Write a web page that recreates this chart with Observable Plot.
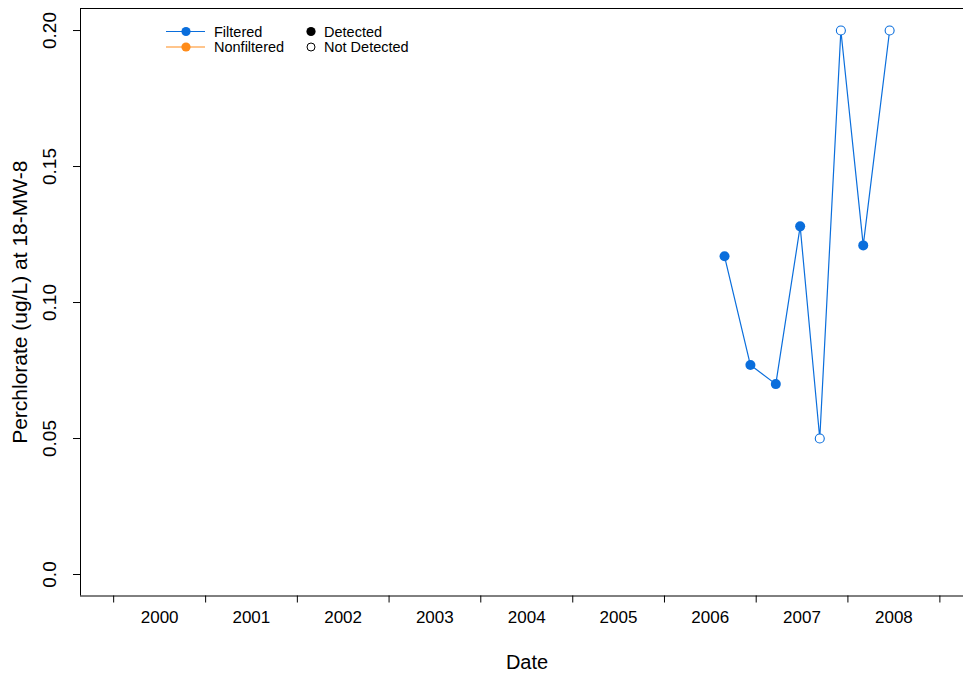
<!DOCTYPE html>
<html>
<head>
<meta charset="utf-8">
<script src="https://cdn.jsdelivr.net/npm/d3@7"></script>
<script src="https://cdn.jsdelivr.net/npm/@observablehq/plot@0.6"></script>
<style>
  html, body { margin: 0; padding: 0; background: #fff; overflow: hidden; }
  #wrap { position: relative; width: 963px; height: 677px; }
  #legend { position: absolute; left: 0; top: 0; pointer-events: none; }
</style>
</head>
<body>
<div id="wrap"><div id="chart"></div><svg id="legend" width="963" height="677"></svg></div>
<script>
// ---- data ----
const sampleDates = ["2006-08-28","2006-12-09","2007-03-20","2007-06-25","2007-09-11","2007-12-04","2008-03-02","2008-06-15"];
const perchlorate = [0.117, 0.077, 0.070, 0.128, 0.050, 0.200, 0.121, 0.200];
const detected    = [true, true, true, true, false, false, true, false];
const fraction    = ["Filtered","Filtered","Filtered","Filtered","Filtered","Filtered","Filtered","Filtered"];

const years = [2000, 2001, 2002, 2003, 2004, 2005, 2006, 2007, 2008];
const yTicks = [0, 0.05, 0.10, 0.15, 0.20];
const yTickLabels = ["0.0", "0.05", "0.10", "0.15", "0.20"];

const legendSeries = ["Filtered", "Nonfiltered"];
const legendStatus = ["Detected", "Not Detected"];

const yTitle = "Perchlorate (ug/L) at 18-MW-8";
const xTitle = "Date";

// ---- styling ----
const BLUE = "#0a6edc";
const ORANGE = "#ff8c1a";
const seriesColors = [BLUE, ORANGE];
const FONT = "'Liberation Sans', Arial, Helvetica, sans-serif";

const data = sampleDates.map((d, i) => ({
  date: new Date(d + "T00:00:00Z"),
  value: perchlorate[i],
  detected: detected[i],
  fraction: fraction[i]
}));

const xDomain = [new Date(Date.UTC(1999, 7, 22)), new Date(Date.UTC(2009, 3, 5))];
const yDomain = [-0.0079, 0.2081];

const yearStarts = years.concat([years[years.length - 1] + 1]).map(y => new Date(Date.UTC(y, 0, 1)));
const yearMids = years.map(y => new Date(Date.UTC(y, 6, 2)));

const filt = data.filter(d => d.fraction === "Filtered");

const chart = Plot.plot({
  width: 963,
  height: 677,
  marginLeft: 80,
  marginRight: 0,
  marginTop: 8,
  marginBottom: 81.5,
  style: { fontFamily: FONT, fontSize: "17px", background: "#fff", color: "#000" },
  x: { type: "utc", domain: xDomain },
  y: { domain: yDomain },
  marks: [
    // box (left, top, bottom)
    Plot.ruleY([yDomain[0], yDomain[1]], { stroke: "#000", strokeWidth: 1 }),
    Plot.ruleX([xDomain[0]], { stroke: "#000", strokeWidth: 1 }),
    // y axis
    Plot.axisY({
      ticks: yTicks,
      tickFormat: (d) => yTickLabels[yTicks.indexOf(d)],
      tickSize: 7,
      tickPadding: 18,
      tickRotate: -90,
      fontSize: 19,
      label: null,
      stroke: "#000"
    }),
    // x axis: ticks at year boundaries
    Plot.axisX({
      ticks: yearStarts,
      tickFormat: () => "",
      tickSize: 7,
      label: null
    }),
    // x axis: labels at mid-year
    Plot.axisX({
      ticks: yearMids,
      tickFormat: d => String(d.getUTCFullYear()),
      tickSize: 0,
      tickPadding: 15,
      fontSize: 17,
      label: null
    }),
    // axis titles
    Plot.text([yTitle], { frameAnchor: "left", dx: -60, rotate: -90, textAnchor: "middle", text: d => d, fontSize: 21 }),
    Plot.text([xTitle], { frameAnchor: "bottom", dx: 5, dy: 73, textAnchor: "middle", text: d => d, fontSize: 20 }),
    // series
    Plot.line(filt, { x: "date", y: "value", stroke: BLUE, strokeWidth: 1.2 }),
    Plot.dot(filt.filter(d => d.detected), { x: "date", y: "value", r: 5, fill: BLUE, stroke: "none" }),
    Plot.dot(filt.filter(d => !d.detected), { x: "date", y: "value", r: 4.5, fill: "#fff", stroke: BLUE, strokeWidth: 1.1 })
  ]
});
document.getElementById("chart").appendChild(chart);

// ---- legend (overlay) ----
const lg = d3.select("#legend");
const rowY = [31.5, 47];
legendSeries.forEach((name, i) => {
  const y = rowY[i];
  lg.append("line").attr("x1", 166).attr("x2", 205).attr("y1", y).attr("y2", y)
    .attr("stroke", seriesColors[i]).attr("stroke-width", 1.2);
  lg.append("circle").attr("cx", 186).attr("cy", y).attr("r", 4.6).attr("fill", seriesColors[i]);
  lg.append("text").attr("x", 214).attr("y", y).attr("dy", "0.36em")
    .attr("font-family", FONT).attr("font-size", 14.5).text(name);
});
legendStatus.forEach((name, i) => {
  const y = rowY[i];
  if (i === 0) {
    lg.append("circle").attr("cx", 311).attr("cy", y).attr("r", 4.6).attr("fill", "#000");
  } else {
    lg.append("circle").attr("cx", 311).attr("cy", y).attr("r", 4).attr("fill", "none")
      .attr("stroke", "#000").attr("stroke-width", 1);
  }
  lg.append("text").attr("x", 324).attr("y", y).attr("dy", "0.36em")
    .attr("font-family", FONT).attr("font-size", 14.5).text(name);
});
</script>
</body>
</html>
